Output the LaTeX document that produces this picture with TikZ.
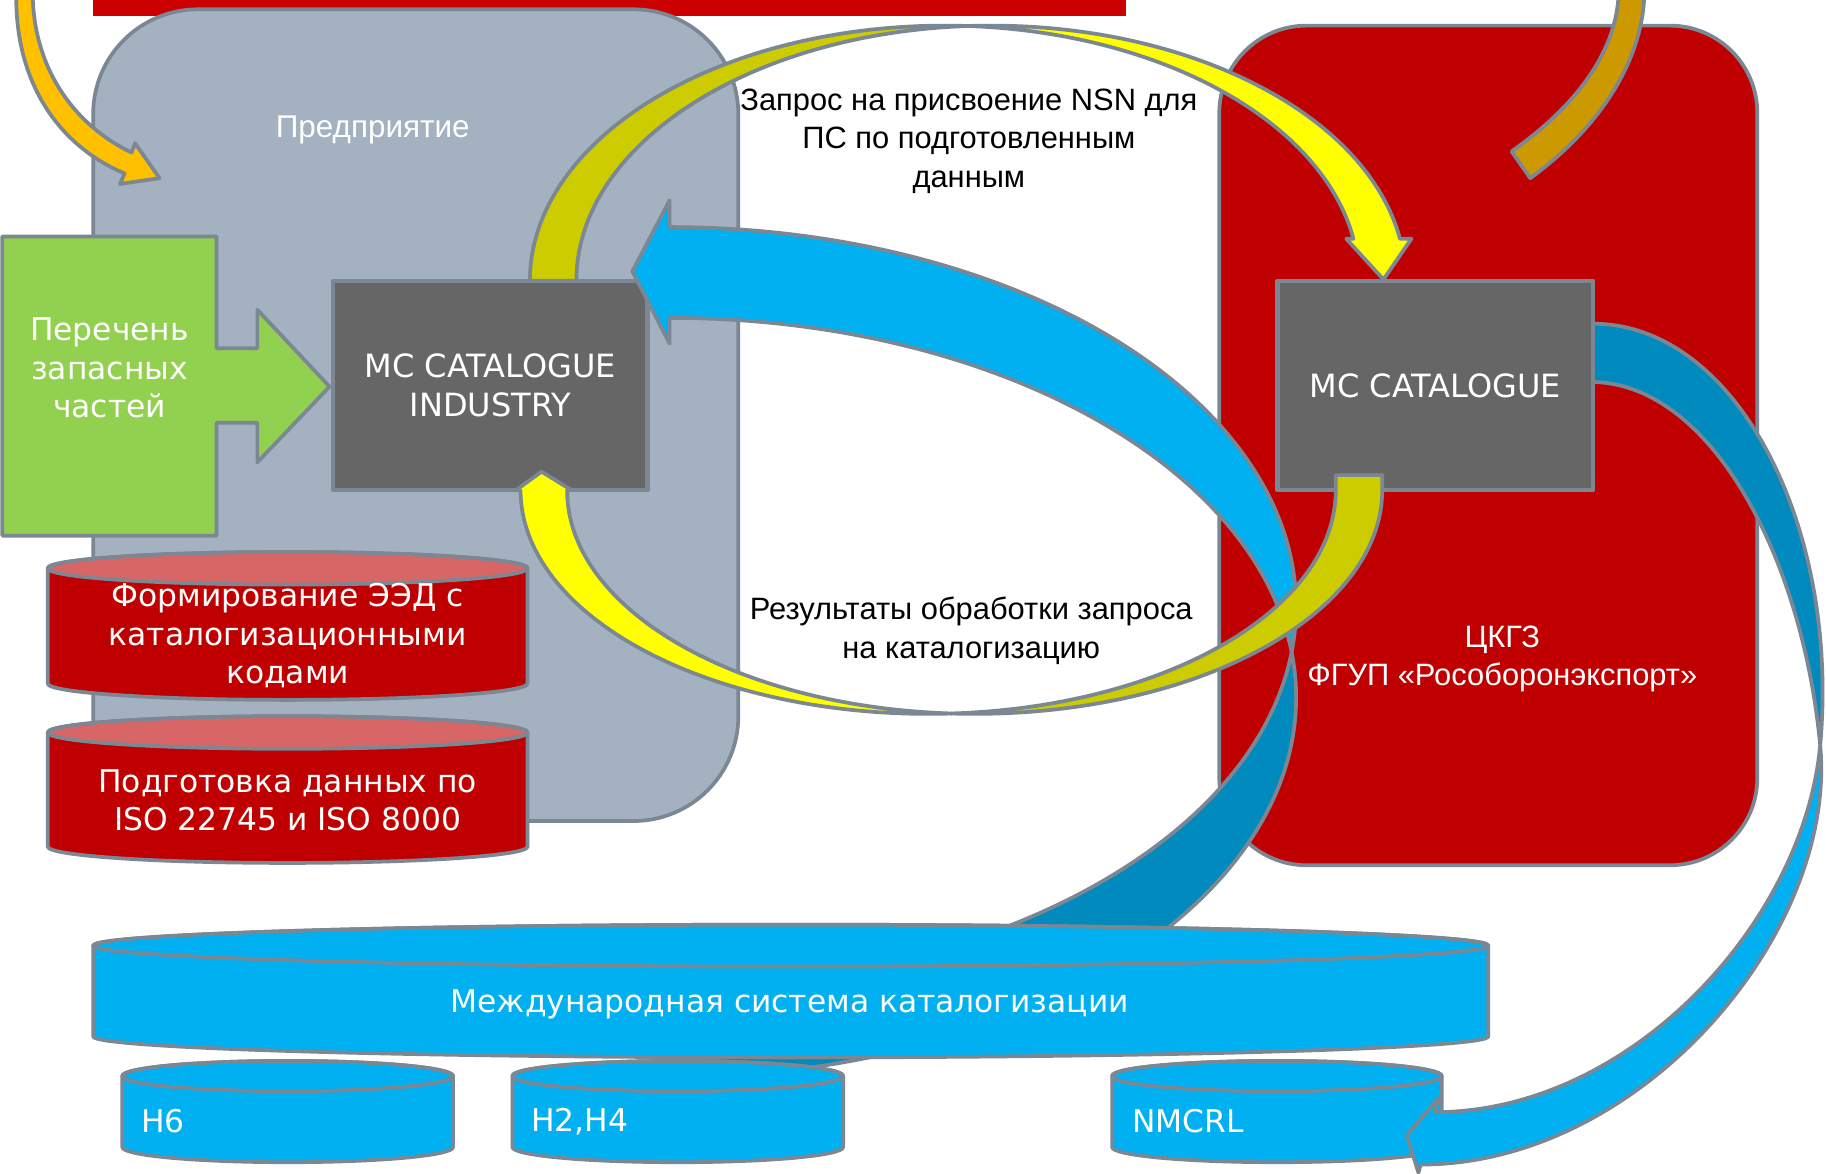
\documentclass[tikz,border=0pt]{standalone}
\usepackage{fontspec}
\setmainfont{Liberation Sans}
\newfontfamily\vfont{DejaVu Sans}
\definecolor{lg}{HTML}{7B8793}
\definecolor{grayrect}{HTML}{A3B1C0}
\definecolor{darkred}{HTML}{C00000}
\definecolor{barred}{HTML}{CC0000}
\definecolor{greenc}{HTML}{92D050}
\definecolor{boxg}{HTML}{666666}
\definecolor{yel}{HTML}{FFFF00}
\definecolor{olive}{HTML}{CCCC00}
\definecolor{bblue}{HTML}{00B0F0}
\definecolor{dblue}{HTML}{008ABE}
\definecolor{orng}{HTML}{FFC000}
\definecolor{goldc}{HTML}{CC9900}
\definecolor{pinkt}{HTML}{D96666}
\newcommand{\drawcyl}[7]{%
  \pgfmathsetmacro\cylrx{(#2-#1)/2}%
  \pgfmathsetmacro\cylcx{(#2+#1)/2}%
  \filldraw[ol, fill=#6] (#1,-#3) -- (#1,-#4) arc[start angle=180, end angle=360, x radius=\cylrx, y radius=#5] -- (#2,-#3) arc[start angle=0, end angle=180, x radius=\cylrx, y radius=#5] -- cycle;
  \filldraw[ol, fill=#7] (\cylcx,-#3) ellipse[x radius=\cylrx, y radius=#5];
}
\begin{document}
\begin{tikzpicture}[x=1pt,y=1pt,
  ol/.style={draw=lg, line width=3.2pt, line join=round},
  wtxt/.style={text=white, align=center, inner sep=0pt},
  vtxt/.style={wtxt, font=\vfont\fontsize{26.9}{33}\selectfont},
  atxt/.style={align=center, inner sep=0pt, font=\fontsize{26.5}{33}\selectfont},
  box/.style={ol, fill=boxg, line width=3.6pt, minimum width=270pt, minimum height=180pt, inner sep=0pt, vtxt, font=\vfont\fontsize{27.5}{33}\selectfont},
]
\useasboundingbox (0,0) rectangle (1568,-1008);
\clip (0,0) rectangle (1568,-1008);
\fill[white] (0,0) rectangle (1568,-1008);

% top red bar
\fill[barred] (80,0) rectangle (967,-14);
% enterprise container
\draw[ol, fill=grayrect, rounded corners=90pt] (80,-8) rectangle (634,-705);
\node[atxt, text=white, font=\fontsize{27}{33}\selectfont] (ent) at (320,-112) {Предприятие};
% CKGZ container
\draw[ol, fill=darkred, rounded corners=75pt] (1047,-22) rectangle (1509,-743);

% top-right gold arrow
\filldraw[ol, fill=goldc] (1412,8) .. controls (1412,-45) and (1380,-105) .. (1314,-153) -- (1298,-130) .. controls (1352,-92) and (1389,-45) .. (1390,8) -- cycle;
% top-left orange arrow
\filldraw[ol, fill=orng] (14,8) .. controls (12,-70) and (50,-125) .. (107,-149) -- (103,-158) -- (137,-153) -- (116,-123) -- (113,-131) .. controls (65,-108) and (28,-60) .. (28,8) -- cycle;

% green list arrow
\filldraw[ol, fill=greenc] (2,-203) -- (186,-203) -- (186,-299) -- (221,-299) -- (221,-266) -- (283,-332) -- (221,-397) -- (221,-363) -- (186,-363) -- (186,-460) -- (2,-460) -- cycle;
\node[vtxt] (spare) at (94,-316) {Перечень\\запасных\\частей};

% red cylinders
\drawcyl{41}{453}{488}{587}{14}{darkred}{pinkt}
\node[vtxt] (c1t) at (247,-546) {Формирование ЭЭД с\\каталогизационными\\кодами};
\drawcyl{41}{453}{629}{727}{14}{darkred}{pinkt}
\node[vtxt] (c2t) at (247,-687) {Подготовка данных по\\ISO 22745 и ISO 8000};

% boxes
\node[box] (ind) at (421,-331) {MC CATALOGUE\\INDUSTRY};
\node[box, minimum width=271pt] (cat) at (1232.5,-331) {MC CATALOGUE};

% top curved arrow (olive back, yellow front)
\filldraw[ol, fill=olive] (455,-241) arc[start angle=180, end angle=86.78, x radius=356, y radius=219] arc[start angle=93.22, end angle=180, x radius=356, y radius=219] -- cycle;
\filldraw[ol, fill=yel] (831,-22.35) arc[start angle=93.22, end angle=9.46, x radius=356, y radius=219] -- (1212,-205) -- (1188,-240) -- (1156,-205) -- (1162.2,-205) arc[start angle=9.46, end angle=86.78, x radius=356, y radius=219] -- cycle;

% big blue curved arrow
\filldraw[ol, fill=dblue] (1109.14,-560) arc[start angle=-6.87, end angle=-90, x radius=538, y radius=326] -- (575,-925) arc[start angle=-90, end angle=6.87, x radius=538, y radius=326] -- cycle;
\filldraw[ol, fill=bblue] (575,-195) arc[start angle=90, end angle=-6.87, x radius=538, y radius=326] arc[start angle=6.87, end angle=90, x radius=538, y radius=326] -- (575,-295) -- (543,-233) -- (575,-172) -- cycle;

% bottom curved arrow (olive back, yellow front)
\filldraw[ol, fill=olive] (1147,-408) -- (1147,-421) arc[start angle=0, end angle=-86.73, x radius=350, y radius=192] arc[start angle=266.73, end angle=360, x radius=350, y radius=192] -- (1187,-408) -- cycle;
\filldraw[ol, fill=yel] (816.96,-612.69) arc[start angle=273.27, end angle=180, x radius=350, y radius=192] -- (443,-421) -- (465,-405) -- (491,-421) -- (487,-421) arc[start angle=180, end angle=266.73, x radius=350, y radius=192] -- cycle;

% blue cylinders
\drawcyl{80}{1278}{812}{890}{18}{bblue}{bblue}
\node[vtxt] (mst) at (678,-862) {Международная система каталогизации};
\drawcyl{105}{389}{924}{985}{13}{bblue}{bblue}
\drawcyl{440}{724}{924}{985}{13}{bblue}{bblue}
\drawcyl{955}{1238}{924}{985}{13}{bblue}{bblue}
\node[vtxt, anchor=west] (h6) at (121,-963) {H6};
\node[vtxt, anchor=west] (h24) at (456,-963) {H2,H4};
\node[vtxt, anchor=west] (nm) at (972,-963) {NMCRL};

% right blue curved arrow
\filldraw[ol, fill=dblue] (1368,-278) .. controls (1490,-278) and (1580,-450) .. (1563,-640) .. controls (1548,-480) and (1470,-330) .. (1368,-328) -- cycle;
\filldraw[ol, fill=bblue] (1563,-640) .. controls (1578,-800) and (1410,-1000) .. (1220,-1000) -- (1218,-1007) -- (1208,-975) -- (1235,-943) -- (1232,-955) .. controls (1400,-955) and (1549,-792) .. (1563,-640) -- cycle;

% texts
\node[atxt] (req) at (832,-121) {Запрос на присвоение NSN для\\ПС по подготовленным\\данным};
\node[atxt] (res) at (834,-541.5) {Результаты обработки запроса\\на каталогизацию};
\node[atxt, text=white] (ckgz) at (1290,-566) {ЦКГЗ\\ФГУП «Рособоронэкспорт»};
\end{tikzpicture}
\end{document}
